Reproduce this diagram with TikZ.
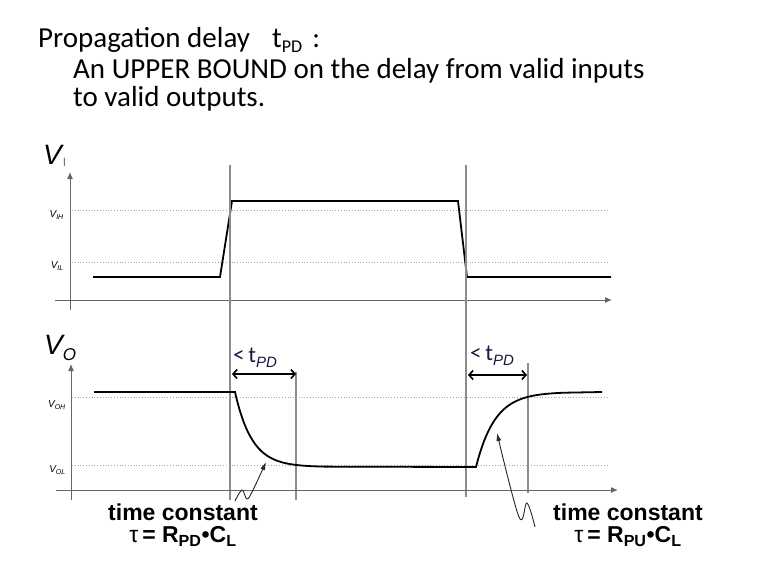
\documentclass[tikz,border=0pt]{standalone}
\usepackage{fontspec}
\setmainfont{Liberation Sans}
\newfontfamily\hand{Carlito}
\usetikzlibrary{arrows.meta}
\definecolor{navy}{RGB}{25,25,60}
\begin{document}
\begin{tikzpicture}[x=1pt,y=-1pt,
  signal/.style={line width=1.8pt, black, line join=miter},
  axisline/.style={line width=1pt, black!60, -{Latex[length=7pt,width=6pt]}},
  guide/.style={line width=1.3pt, black!45},
  level/.style={line width=0.8pt, black!35, dotted},
  delayarrow/.style={line width=1.6pt, {Straight Barb[length=4pt,width=9pt]}-{Straight Barb[length=4pt,width=9pt]}},
  anno/.style={line width=0.9pt, black!85, -{Latex[length=8pt,width=5pt]}},
  titletext/.style={font=\hand\fontsize{29}{30}\selectfont, align=left, anchor=base west, inner sep=0pt},
  lvl/.style={font=\fontsize{10}{12}\selectfont\itshape, anchor=east, inner sep=0pt},
  bigv/.style={font=\fontsize{28}{30}\selectfont\itshape, anchor=base west, inner sep=0pt},
  tclabel/.style={font=\fontsize{23}{23}\selectfont\bfseries, align=center, anchor=north, inner sep=0pt},
  tpd/.style={font=\hand\fontsize{23}{24}\selectfont, anchor=base west, inner sep=0pt, text=navy}
]
\useasboundingbox (0,0) rectangle (765,581);

% title (anchor base = baseline of the last line)
\node[titletext] (title) at (38,106) {\makebox[234pt][l]{Propagation delay}t\raisebox{-0.2em}{\fontsize{18}{18}\selectfont PD}\hspace{0.35em}:\\[1pt]
\hspace{35pt}An UPPER BOUND on the delay from valid inputs\\[-2pt]
\hspace{35pt}to valid outputs.};

% ---------- upper graph ----------
\node[bigv] (vi) at (43,164) {V\raisebox{-0.1em}{\fontsize{12}{12}\selectfont\upshape\color{black!55}\hspace{1pt}I}};
\draw[level] (72,210) coordinate (ih0) -- (608,210) coordinate (ih1);
\draw[level] (72,262) coordinate (il0) -- (608,262) coordinate (il1);
\node[lvl] (vih) at (64,215) {V\textsubscript{IH}};
\node[lvl] (vil) at (64,266) {V\textsubscript{IL}};
\coordinate (ya0) at (70,310);
\coordinate (ya1) at (70,172);
\coordinate (xa0) at (55,300);
\coordinate (xa1) at (612,300);
\draw[axisline] (ya0) -- (ya1);
\draw[axisline] (xa0) -- (xa1);
\draw[signal] (93,277) -- (220,277) -- (232,201) -- (458,201) -- (467,277) -- (611,277);

% vertical guides
\coordinate (g1a) at (230,165); \coordinate (g1b) at (230,500);
\coordinate (g2a) at (466,165); \coordinate (g2b) at (466,497);
\coordinate (g3a) at (296,372); \coordinate (g3b) at (296,500);
\coordinate (g4a) at (528,363); \coordinate (g4b) at (528,493);
\draw[guide] (g1a) -- (g1b);
\draw[guide] (g2a) -- (g2b);
\draw[guide] (g3a) -- (g3b);
\draw[guide] (g4a) -- (g4b);

% ---------- lower graph ----------
\node[bigv] (vo) at (44,354) {V\raisebox{-0.22em}{\fontsize{17}{17}\selectfont O}};
\draw[level] (72,397) coordinate (oh0) -- (608,397) coordinate (oh1);
\draw[level] (72,465) coordinate (ol0) -- (608,465) coordinate (ol1);
\node[lvl] (voh) at (66,405) {V\textsubscript{OH}};
\node[lvl] (vol) at (66,470) {V\textsubscript{OL}};
\coordinate (yb0) at (71,500);
\coordinate (yb1) at (71,364);
\coordinate (xb0) at (56,490);
\coordinate (xb1) at (618,490);
\draw[axisline] (yb0) -- (yb1);
\draw[axisline] (xb0) -- (xb1);
\draw[signal] (94,392) -- (235,392)
  -- plot[domain=235:325,samples=90] (\x,{467-75*exp(-(\x-235)/17)})
  -- (476,467)
  -- plot[domain=476:565,samples=90] (\x,{392+75*exp(-(\x-476)/19)})
  -- (602,392);

% delay arrows
\coordinate (d1a) at (232,374); \coordinate (d1b) at (296,374);
\coordinate (d2a) at (468,375); \coordinate (d2b) at (527,375);
\draw[delayarrow] (d1a) -- (d1b);
\draw[delayarrow] (d2a) -- (d2b);
\node[tpd] (l1) at (233,362) {<\,t\raisebox{-0.25em}{\fontsize{15}{15}\selectfont\rmfamily\itshape PD}};
\node[tpd] (l2) at (470,360) {<\,t\raisebox{-0.25em}{\fontsize{15}{15}\selectfont\rmfamily\itshape PD}};

% annotations
\coordinate (a1tip) at (266,462);
\coordinate (a2tip) at (497,433);
\draw[anno] plot[smooth, tension=0.6] coordinates {(235,501) (242,490) (247,499) (253,490) (a1tip)};
\draw[anno] plot[smooth, tension=0.6] coordinates {(535,527) (527,503) (519,517) (a2tip)};

\node[tclabel] (tc1) at (183,504) {time constant\\[-1pt]{\mdseries τ}\,= R\textsubscript{PD}•C\textsubscript{L}};
\node[tclabel] (tc2) at (628,504) {time constant\\[-1pt]{\mdseries τ}\,= R\textsubscript{PU}•C\textsubscript{L}};
\end{tikzpicture}
\end{document}
